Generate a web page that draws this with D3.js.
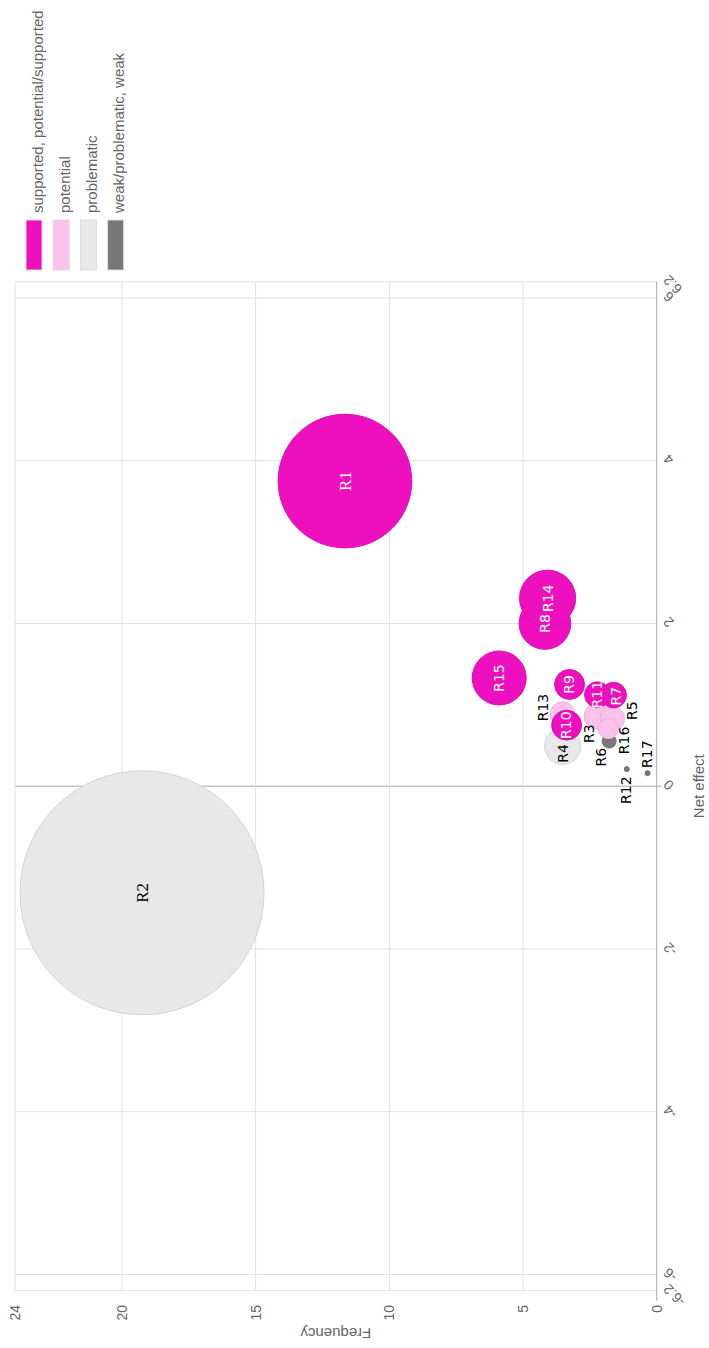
<!DOCTYPE html>
<html><head><meta charset="utf-8">
<script src="https://cdn.jsdelivr.net/npm/d3@7"></script>
<style>body{margin:0;background:#fff} svg{display:block}</style>
</head><body>
<script>
// ---- data ----
const names      = ["R1","R2","R3","R4","R5","R6","R7","R8","R9","R10","R11","R12","R13","R14","R15","R16","R17"];
const netEffect  = [3.75,-1.31,0.86,0.49,0.83,0.555,1.12,2.0,1.25,0.75,1.125,0.21,0.887,2.31,1.33,0.71,0.16];
const frequency  = [11.66,19.25,2.24,3.52,1.66,1.78,1.61,4.18,3.26,3.37,2.22,1.12,3.52,4.08,5.89,1.81,0.34];
const bubbleSize = [30,100,1.1,2.2,1.0,0.33,1.1,4.5,1.5,1.5,1.1,0.04,1.0,5.3,4.9,0.7,0.04];
const evidence   = [0,2,1,2,1,3,0,0,0,0,0,3,1,0,0,1,3];
const categories = ["supported, potential/supported","potential","problematic","weak/problematic, weak"];
const xTicks = [-6.2,-6,-4,-2,0,2,4,6,6.2];
const yTicks = [0,5,10,15,20,24];

// ---- styling / layout ----
const categoryColors = ["#ee10bf","#fbc3ec","#e8e8e8","#777777"];
const labelColors    = ["#ffffff","#000000","#000000","#000000"];
const labelOffsets = {R13:[6.5,-19],R4:[-7,1],R3:[-17.5,-7.7],R6:[-16,-8],R16:[-12,16],R5:[8,20],R12:[-21,-1],R17:[19,-1],R7:[-1,2]};
const serifLabels = ["R1","R2"];

const W = 1348, H = 709; // unrotated frame
const svg = d3.select("body").append("svg").attr("width",709).attr("height",1348);
const g = svg.append("g").attr("transform",`translate(0,${W}) rotate(-90)`);

const x = d3.scaleLinear().domain([-6.2,6.2]).range([57.3,1066.3]);
const y = d3.scaleLinear().domain([0,24]).range([656.7,15]);
const r = d3.scaleSqrt().domain([0,100]).range([0,122]);
const font = "'Liberation Sans', Arial, sans-serif";

// grid
g.append("g").selectAll("line").data(xTicks).join("line")
  .attr("x1",d=>x(d)).attr("x2",d=>x(d)).attr("y1",y(24)).attr("y2",d=>d===0?y(0)+5:y(0))
  .attr("stroke",d=>d===0?"#a8a8a8":"#e0e0e0").attr("stroke-width",1);
g.append("g").selectAll("line").data(yTicks.filter(d=>d!==0)).join("line")
  .attr("x1",x(-6.2)).attr("x2",x(6.2)).attr("y1",d=>y(d)).attr("y2",d=>y(d))
  .attr("stroke","#e0e0e0").attr("stroke-width",1);
// bottom axis line
g.append("line").attr("x1",x(-6.2)-10).attr("x2",x(6.2)).attr("y1",y(0)).attr("y2",y(0))
  .attr("stroke","#a8a8a8").attr("stroke-width",1);

// x tick labels (rotated)
g.append("g").selectAll("text").data(xTicks).join("text")
  .attr("transform",d=>`translate(${x(d)+4},${y(0)+9}) rotate(-45)`)
  .attr("text-anchor","end").attr("dy","0.35em")
  .attr("font-family",font).attr("font-size",14).attr("fill","#666")
  .text(d=>String(d));
// y tick labels
g.append("g").selectAll("text").data(yTicks).join("text")
  .attr("x",43).attr("y",d=>y(d)).attr("dy","0.35em").attr("text-anchor","end")
  .attr("font-family",font).attr("font-size",14).attr("fill","#666").text(d=>d);
// axis titles
g.append("text").attr("transform",`translate(20,${(y(0)+y(24))/2}) rotate(-90)`)
  .attr("text-anchor","middle").attr("font-family",font).attr("font-size",15).attr("fill","#666").text("Frequency");
g.append("text").attr("x",(x(-6.2)+x(6.2))/2).attr("y",704).attr("text-anchor","middle")
  .attr("font-family",font).attr("font-size",15).attr("fill","#666").text("Net effect");

// bubbles
const pts = names.map((n,i)=>({n,x:netEffect[i],y:frequency[i],s:bubbleSize[i],c:evidence[i]}));
const order = pts.slice().sort((a,b)=>b.c-a.c);
g.append("g").selectAll("circle").data(order).join("circle")
  .attr("cx",d=>x(d.x)).attr("cy",d=>y(d.y)).attr("r",d=>Math.max(2.5,r(d.s)))
  .attr("fill",d=>categoryColors[d.c])
  .attr("stroke",d=>d3.color(categoryColors[d.c]).darker(0.25)).attr("stroke-width",1);
g.append("g").selectAll("text").data(pts).join("text")
  .attr("x",d=>x(d.x)+(labelOffsets[d.n]||[0,0])[0])
  .attr("y",d=>y(d.y)+(labelOffsets[d.n]||[0,0])[1])
  .attr("dy","0.35em").attr("text-anchor","middle")
  .attr("font-family",d=>serifLabels.includes(d.n)?"'Liberation Serif', serif":"'DejaVu Sans', sans-serif")
  .attr("font-size",d=>serifLabels.includes(d.n)?17:14)
  .attr("fill",d=>labelColors[d.c]).text(d=>d.n);

// legend
const lg = g.append("g").selectAll("g").data(categories).join("g")
  .attr("transform",(d,i)=>`translate(1078,${26+i*27.2})`);
lg.append("rect").attr("width",50).attr("height",16)
  .attr("fill",(d,i)=>categoryColors[i]).attr("stroke","#dcdcdc").attr("stroke-width",1);
lg.append("text").attr("x",57).attr("y",16.5).attr("font-family",font).attr("font-size",15)
  .attr("fill","#666").text(d=>d);
</script>
</body></html>
